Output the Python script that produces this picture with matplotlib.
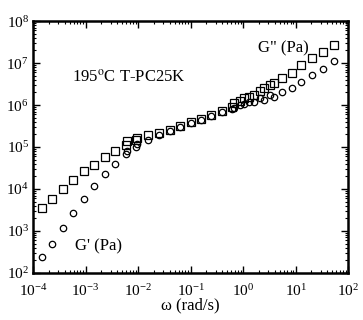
import matplotlib
matplotlib.use('Agg')
import matplotlib.pyplot as plt
from matplotlib.ticker import LogLocator, LogFormatterMathtext, NullFormatter

plt.rcParams['font.family'] = 'Liberation Serif'
plt.rcParams['mathtext.fontset'] = 'stix'

# master curve, several overlapping segments (omega in rad/s, moduli in Pa)
w_low = [1.48e-4, 2.3e-4, 3.7e-4, 5.8e-4, 9.3e-4, 1.45e-3, 2.35e-3, 3.7e-3, 5.9e-3, 9.3e-3]
gpp_low = [3500, 5800, 1.0e4, 1.6e4, 2.7e4, 3.7e4, 5.8e4, 8.0e4, 1.12e5, 1.48e5]
gp_low = [245, 490, 1180, 2700, 5900, 1.2e4, 2.3e4, 4.0e4, 6.8e4, 1.02e5]

w_mid = [6.2e-3, 9.5e-3, 1.55e-2, 2.5e-2, 4.1e-2, 6.3e-2, 0.102, 0.158, 0.245, 0.40, 0.62]
gpp_mid = [1.38e5, 1.62e5, 1.95e5, 2.2e5, 2.5e5, 3.2e5, 4.0e5, 4.6e5, 5.9e5, 7.2e5, 9.1e5]
gp_mid = [7.9e4, 1.17e5, 1.48e5, 1.95e5, 2.4e5, 3.0e5, 3.7e5, 4.4e5, 5.5e5, 6.8e5, 7.9e5]

w_hi1 = [0.67, 1.04, 1.62, 2.5, 3.9]
gpp_hi1 = [1.12e6, 1.48e6, 1.74e6, 2.5e6, 3.3e6]
gp_hi1 = [8.5e5, 1.05e6, 1.2e6, 1.32e6, 1.58e6]

w_hi2 = [0.88, 1.3, 2.1, 3.3, 5.5, 8.6, 12.7, 20.6, 33.4, 54.1]
gpp_hi2 = [1.26e6, 1.58e6, 2.2e6, 3.0e6, 4.4e6, 5.9e6, 8.9e6, 1.29e7, 1.86e7, 2.7e7]
gp_hi2 = [1.0e6, 1.17e6, 1.48e6, 1.74e6, 2.1e6, 2.6e6, 3.5e6, 5.1e6, 7.4e6, 1.12e7]

fig = plt.figure(figsize=(3.63, 3.20), dpi=100)
ax = fig.add_axes([0.091, 0.147, 0.868, 0.787])

for w, gpp, gp in [(w_low, gpp_low, gp_low), (w_mid, gpp_mid, gp_mid),
                   (w_hi1, gpp_hi1, gp_hi1), (w_hi2, gpp_hi2, gp_hi2)]:
    ax.plot(w, gpp, 's', ms=6, mfc='none', mec='black', mew=0.9)
    ax.plot(w, gp, 'o', ms=4.6, mfc='none', mec='black', mew=0.9)

ax.set_xscale('log')
ax.set_yscale('log')
ax.set_xlim(1e-4, 1e2)
ax.set_ylim(1e2, 1e8)

for a in (ax.xaxis, ax.yaxis):
    a.set_major_locator(LogLocator(base=10, numticks=20))
    a.set_major_formatter(LogFormatterMathtext())
    a.set_minor_locator(LogLocator(base=10, subs=range(2, 10), numticks=20))
    a.set_minor_formatter(NullFormatter())

ax.tick_params(which='both', direction='in', top=True, right=True, labelsize=11)
ax.tick_params(which='major', length=5, width=1)
ax.tick_params(which='minor', length=2.5, width=0.8)
ax.tick_params(axis='x', which='major', pad=7)
ax.tick_params(axis='y', which='major', pad=3)
for s in ax.spines.values():
    s.set_linewidth(1.8)

ax.set_xlabel('ω (rad/s)', fontsize=12, labelpad=-1)

ax.text(0.125, 0.76, '195$^{\\mathrm{o}}$C T-PC25K', transform=ax.transAxes, fontsize=12)
ax.text(0.714, 0.875, 'G" (Pa)', transform=ax.transAxes, fontsize=12)
ax.text(0.133, 0.088, "G' (Pa)", transform=ax.transAxes, fontsize=12)

fig.savefig('out.png', dpi=100)
